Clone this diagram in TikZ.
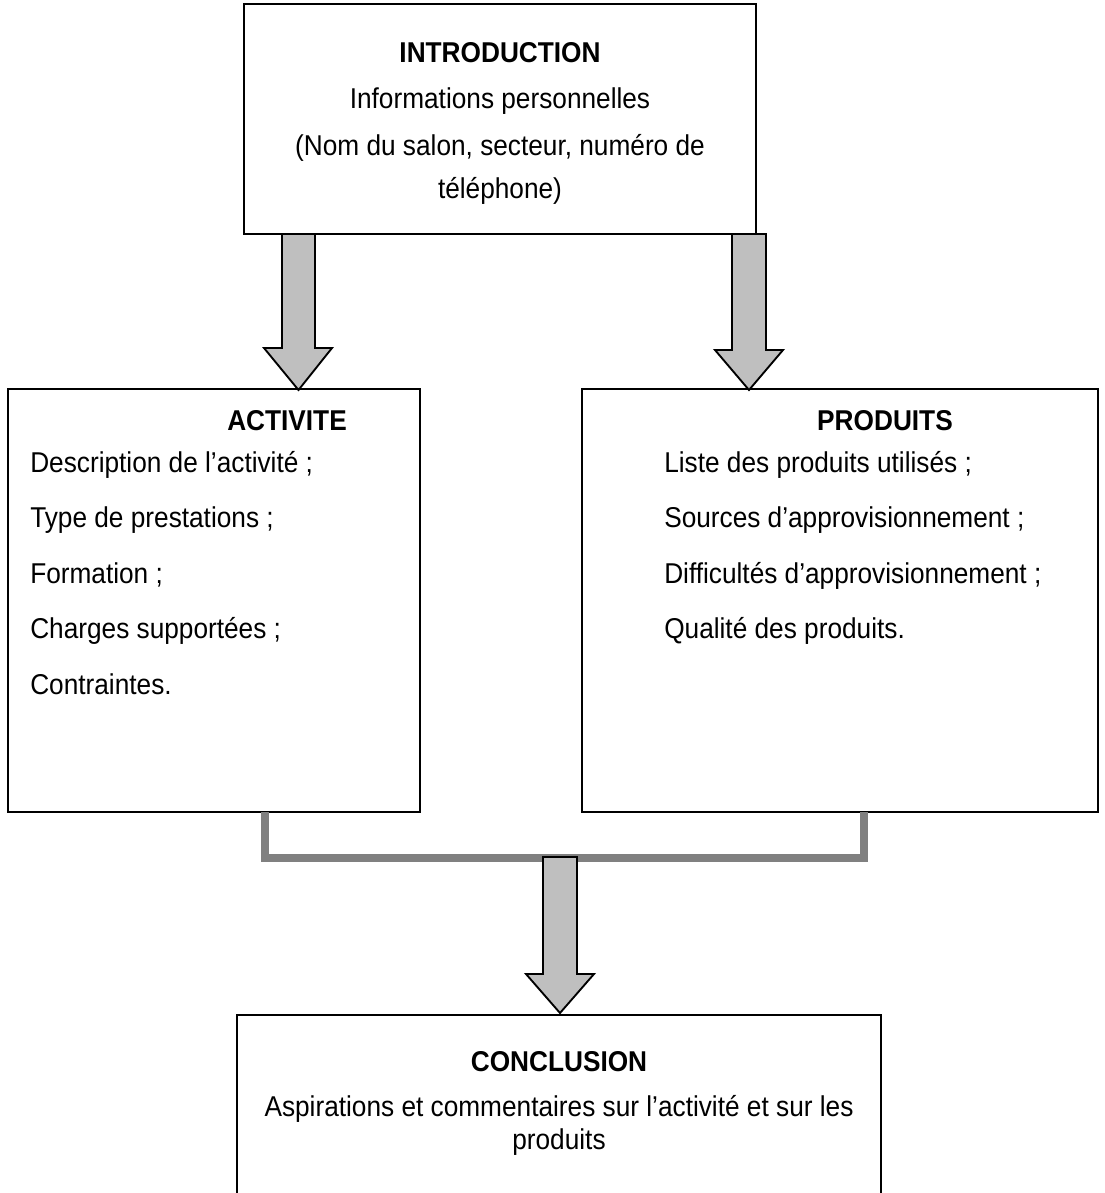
\documentclass[tikz,border=0pt]{standalone}
\usepackage{fontspec}
\setmainfont{Liberation Sans}[FakeStretch=0.915]
\usetikzlibrary{fit}
\begin{document}
\begin{tikzpicture}[x=0.75pt,y=-0.75pt,
  boxstyle/.style={draw=black, line width=1.3pt, inner sep=0pt, fill=none},
  blockarrow/.style={draw=black, line width=1.4pt, fill=black!25, line join=miter},
  bracketline/.style={draw=black!50, line width=6pt, line join=miter, line cap=butt},
  headtxt/.style={font=\fontsize{21.5}{25}\selectfont\bfseries, inner sep=0pt, anchor=base},
  ctxt/.style={font=\fontsize{21.5}{25}\selectfont, inner sep=0pt, anchor=base},
  itemtxt/.style={font=\fontsize{21.5}{25}\selectfont, inner sep=0pt, anchor=base west}]
\useasboundingbox (0,0) rectangle (1104,1193);
\clip (0,0) rectangle (1104,1193);
\fill[white] (0,0) rectangle (1104,1193);

% boxes
\node[boxstyle, fit={(244,4) (756,234)}] (intro) {};
\node[boxstyle, fit={(8,389) (420,812)}] (activite) {};
\node[boxstyle, fit={(582,389) (1098,812)}] (produits) {};
\node[boxstyle, fit={(237,1015) (881,1220)}] (conclusion) {};

% intro text
\node[headtxt] (t1) at (500,62) {INTRODUCTION};
\node[ctxt] (t2) at (500,108) {Informations personnelles};
\node[ctxt] (t3) at (500,155) {(Nom du salon, secteur, numéro de};
\node[ctxt] (t4) at (500,198) {téléphone)};

% activite text
\node[headtxt] (a0) at (287,430) {ACTIVITE};
\node[itemtxt] (a1) at (30,472) {Description de l’activité ;};
\node[itemtxt] (a2) at (30,527) {Type de prestations ;};
\node[itemtxt] (a3) at (30,583) {Formation ;};
\node[itemtxt] (a4) at (30,638) {Charges supportées ;};
\node[itemtxt] (a5) at (30,694) {Contraintes.};

% produits text
\node[headtxt] (p0) at (885,430) {PRODUITS};
\node[itemtxt] (p1) at (664,472) {Liste des produits utilisés ;};
\node[itemtxt] (p2) at (664,527) {Sources d’approvisionnement ;};
\node[itemtxt] (p3) at (664,583) {Difficultés d’approvisionnement ;};
\node[itemtxt] (p4) at (664,638) {Qualité des produits.};

% conclusion text
\node[headtxt] (c0) at (559,1071) {CONCLUSION};
\node[ctxt] (c1) at (559,1116) {Aspirations et commentaires sur l’activité et sur les};
\node[ctxt] (c2) at (559,1149) {produits};

% block arrows from intro
\draw[blockarrow] (282,234) -- (315,234) -- (315,348) -- (332,348) -- (298.5,390)
  -- (264,348) -- (282,348) -- cycle;
\draw[blockarrow] (732,234) -- (766,234) -- (766,350) -- (783,350) -- (749,390)
  -- (715,350) -- (732,350) -- cycle;

% bracket joining the two boxes
\draw[bracketline] (265,812) -- (265,858) -- (864,858) -- (864,812);

% block arrow to conclusion
\draw[blockarrow] (543,857) -- (577,857) -- (577,974) -- (594,974) -- (560,1013)
  -- (526,974) -- (543,974) -- cycle;
\end{tikzpicture}
\end{document}
